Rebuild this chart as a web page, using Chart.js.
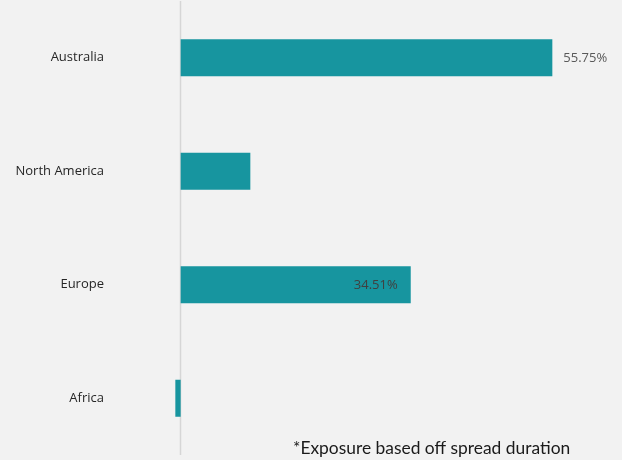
<!DOCTYPE html>
<html>
<head>
<meta charset="utf-8">
<script src="https://cdn.jsdelivr.net/npm/chart.js@4/dist/chart.umd.min.js"></script>
<style>
html,body{margin:0;padding:0;background:#f2f2f2;}
canvas{display:block;}
</style>
</head>
<body>
<canvas id="c" width="622" height="460"></canvas>
<script>
const categories = ['Australia', 'North America', 'Europe', 'Africa'];
const exposure = [55.75, 10.45, 34.51, -0.8];
const dataLabels = ['55.75%', '', '34.51%', ''];
const labelInside = [false, false, true, false];
const footnote = '*Exposure based off spread duration';

const zeroLinePlugin = {
  id: 'zeroLine',
  beforeDatasetsDraw(chart) {
    const ctx = chart.ctx;
    const x = Math.round(chart.scales.x.getPixelForValue(0)) - 0.5;
    const a = chart.chartArea;
    ctx.save();
    ctx.strokeStyle = '#d6d6d6';
    ctx.lineWidth = 1.5;
    ctx.beginPath();
    ctx.moveTo(x, a.top);
    ctx.lineTo(x, a.bottom);
    ctx.stroke();
    ctx.restore();
  }
};

const barLabelPlugin = {
  id: 'barLabels',
  afterDatasetsDraw(chart) {
    const ctx = chart.ctx;
    const meta = chart.getDatasetMeta(0);
    ctx.save();
    ctx.font = '13px "Open Sans", sans-serif';
    ctx.textBaseline = 'middle';
    meta.data.forEach((bar, i) => {
      const t = dataLabels[i];
      if (!t) return;
      if (labelInside[i]) {
        ctx.fillStyle = '#404040';
        ctx.textAlign = 'right';
        ctx.fillText(t, bar.x - 13, bar.y + 1);
      } else {
        ctx.fillStyle = '#595959';
        ctx.textAlign = 'left';
        ctx.fillText(t, bar.x + 11, bar.y + 1);
      }
    });
    ctx.restore();
  }
};

const footnotePlugin = {
  id: 'footnote',
  afterDraw(chart) {
    const ctx = chart.ctx;
    ctx.save();
    ctx.font = '17.4px "Lato", sans-serif';
    ctx.fillStyle = '#1a1a1a';
    ctx.textAlign = 'left';
    ctx.textBaseline = 'alphabetic';
    ctx.fillText(footnote, 293, 454);
    ctx.restore();
  }
};

new Chart(document.getElementById('c'), {
  type: 'bar',
  data: {
    labels: categories,
    datasets: [{
      data: exposure,
      backgroundColor: '#17959f',
      borderWidth: 0,
      categoryPercentage: 1,
      barPercentage: 0.326
    }]
  },
  options: {
    indexAxis: 'y',
    responsive: false,
    animation: false,
    layout: { padding: { top: 1, bottom: 5, left: 0, right: 8 } },
    plugins: { legend: { display: false }, tooltip: { enabled: false } },
    scales: {
      x: {
        min: -1, max: 65,
        display: false
      },
      y: {
        border: { display: false },
        grid: { display: false, drawTicks: false },
        ticks: {
          color: '#262626',
          padding: 70,
          font: { family: '"Open Sans", sans-serif', size: 13 }
        },
        afterFit(scale) {
          scale.width = 174;
          scale.paddingTop = 0;
          scale.paddingBottom = 0;
        }
      }
    }
  },
  plugins: [zeroLinePlugin, barLabelPlugin, footnotePlugin]
});
</script>
</body>
</html>
